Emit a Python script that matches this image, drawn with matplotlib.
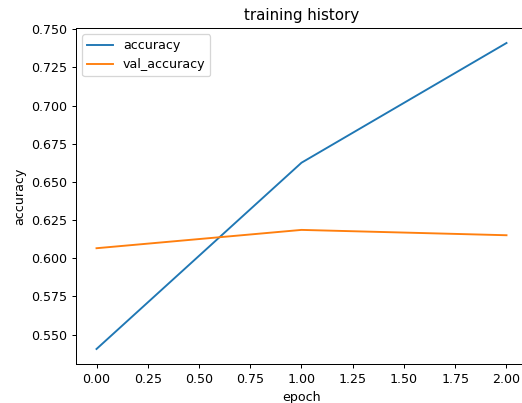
import matplotlib
matplotlib.use("Agg")
import matplotlib.pyplot as plt

# training history values
epochs = [0, 1, 2]
accuracy = [0.5406, 0.6626, 0.7410]
val_accuracy = [0.6066, 0.6186, 0.6151]

dpi = 91
fig = plt.figure(figsize=(522 / dpi, 403 / dpi), dpi=dpi)
# the reference is cropped on the right, so the axes run past the figure edge
ax = fig.add_axes([76 / 522, 1 - 364.3 / 403, 451 / 522, 336.6 / 403])

ax.plot(epochs, accuracy, label='accuracy')
ax.plot(epochs, val_accuracy, label='val_accuracy')

ax.set_title('training history')
ax.set_xlabel('epoch')
ax.set_ylabel('accuracy')
ax.legend(loc='upper left')

fig.savefig('out.png', dpi=dpi)
